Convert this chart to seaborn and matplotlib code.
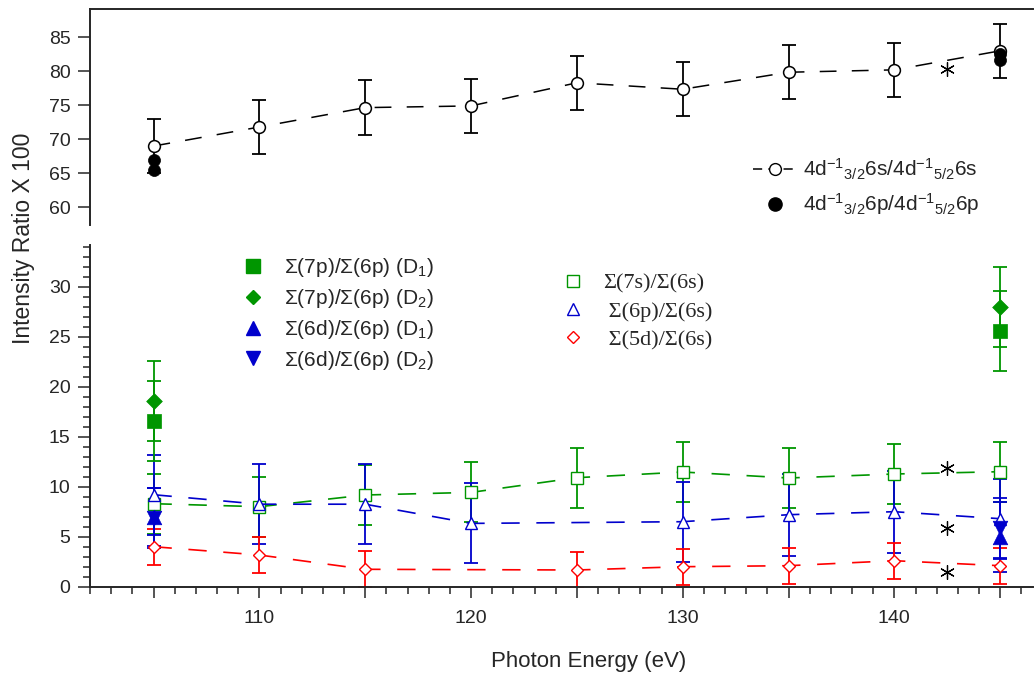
import matplotlib
matplotlib.use('Agg')
import matplotlib.pyplot as plt
import seaborn as sns
from matplotlib.lines import Line2D
from matplotlib.ticker import MultipleLocator, FixedLocator, FuncFormatter

# Photon energies (eV)
energy = [105, 110, 115, 120, 125, 130, 135, 140, 145]

# top panel: 4d-1 3/2 / 4d-1 5/2 ratios (x100)
ratio_6s = [69.0, 71.8, 74.65, 74.9, 78.3, 77.35, 79.85, 80.2, 83.0]
ratio_6s_err = [4.0, 4.0, 4.0, 4.0, 4.0, 4.0, 4.0, 4.0, 4.0]
ratio_6p_x = [105, 105, 145, 145]
ratio_6p = [67.0, 65.5, 82.5, 81.7]
star_top_x = [142.5]
star_top = [80.3]

# bottom panel: open markers (ratios to 6s)
s7_s6 = [8.3, 8.0, 9.17, 9.43, 10.9, 11.47, 10.87, 11.27, 11.5]
s7_s6_err = [3.0, 3.0, 3.0, 3.0, 3.0, 3.0, 3.0, 3.0, 3.0]
p6_s6_x = [105, 110, 115, 120, 130, 135, 140, 145]
p6_s6 = [9.2, 8.25, 8.25, 6.33, 6.5, 7.2, 7.5, 6.8]
p6_s6_err = [4.0, 4.0, 4.0, 4.0, 4.0, 4.1, 4.1, 4.0]
d5_s6_x = [105, 110, 115, 125, 130, 135, 140, 145]
d5_s6 = [4.0, 3.17, 1.74, 1.67, 2.0, 2.1, 2.6, 2.1]
d5_s6_err = [1.8, 1.8, 1.8, 1.8, 1.8, 1.8, 1.8, 1.8]

# bottom panel: filled markers (ratios to 6p)
ends_x = [105, 145]
p7_p6_d1 = [16.6, 25.57]
p7_p6_d1_err = [4.0, 4.0]
p7_p6_d2 = [18.6, 28.0]
p7_p6_d2_err = [4.0, 4.0]
d6_p6_d1 = [7.0, 5.0]
d6_p6_d1_err = [2.9, 3.5]
d6_p6_d2 = [6.9, 5.9]
d6_p6_d2_err = [3.0, 3.0]
star_bot_x = [142.5, 142.5, 142.5]
star_bot = [11.9, 5.84, 1.5]

green = '#009600'
blue = '#0000cc'
red = '#ff0000'

sns.set_theme(style='ticks')
plt.rcParams['font.family'] = ['Liberation Sans', 'DejaVu Sans']
plt.rcParams['mathtext.fontset'] = 'custom'
plt.rcParams['mathtext.rm'] = 'Liberation Sans'
plt.rcParams['mathtext.default'] = 'regular'

W, H = 1034, 675
fig = plt.figure(figsize=(W / 100, H / 100), dpi=100)
ax_top = fig.add_axes([90 / W, 1 - 225 / H, 943 / W, (225 - 9.3) / H])
ax_bot = fig.add_axes([90 / W, 1 - 586.7 / H, 943 / W, (586.7 - 245) / H])

dash = (0, (11, 10))
eb = dict(fmt='none', elinewidth=1.3, capsize=4.7, capthick=1.3, zorder=2)

# ---- top panel
ax_top.errorbar(energy, ratio_6s, yerr=ratio_6s_err, ecolor='black', **eb)
sns.lineplot(x=energy, y=ratio_6s, ax=ax_top, color='black', linestyle=dash, lw=1.1,
             marker='o', markersize=8.5, markerfacecolor='white',
             markeredgecolor='black', markeredgewidth=1.1, zorder=3)
sns.scatterplot(x=ratio_6p_x, y=ratio_6p, ax=ax_top, color='black', marker='o',
                s=75, edgecolor='black', linewidth=0.5, zorder=4)
sns.scatterplot(x=star_top_x, y=star_top, ax=ax_top, color='black', marker=(6, 2, 0),
                s=100, linewidth=0.9, zorder=4)

# ---- bottom panel
ax_bot.errorbar(energy, s7_s6, yerr=s7_s6_err, ecolor=green, **eb)
ax_bot.errorbar(p6_s6_x, p6_s6, yerr=p6_s6_err, ecolor=blue, **eb)
ax_bot.errorbar(d5_s6_x, d5_s6, yerr=d5_s6_err, ecolor=red, **eb)
ax_bot.errorbar(ends_x, p7_p6_d1, yerr=p7_p6_d1_err, ecolor=green, **eb)
ax_bot.errorbar(ends_x, p7_p6_d2, yerr=p7_p6_d2_err, ecolor=green, **eb)
ax_bot.errorbar(ends_x, d6_p6_d1, yerr=d6_p6_d1_err, ecolor=blue, **eb)
ax_bot.errorbar(ends_x, d6_p6_d2, yerr=d6_p6_d2_err, ecolor=blue, **eb)

sns.lineplot(x=energy, y=s7_s6, ax=ax_bot, color=green, linestyle=dash, lw=1.2,
             marker='s', markersize=8.5, markerfacecolor='white',
             markeredgecolor=green, markeredgewidth=1.0, zorder=3)
sns.lineplot(x=p6_s6_x, y=p6_s6, ax=ax_bot, color=blue, linestyle=dash, lw=1.2,
             marker='^', markersize=9, markerfacecolor='white',
             markeredgecolor=blue, markeredgewidth=1.0, zorder=3)
sns.lineplot(x=d5_s6_x, y=d5_s6, ax=ax_bot, color=red, linestyle=dash, lw=1.2,
             marker='D', markersize=6, markerfacecolor='white',
             markeredgecolor=red, markeredgewidth=1.0, zorder=3)

sns.scatterplot(x=ends_x, y=p7_p6_d1, ax=ax_bot, color=green, marker='s', s=90,
                edgecolor=green, linewidth=0.5, zorder=4)
sns.scatterplot(x=ends_x, y=p7_p6_d2, ax=ax_bot, color=green, marker='D', s=64,
                edgecolor=green, linewidth=0.5, zorder=4)
sns.scatterplot(x=ends_x, y=d6_p6_d1, ax=ax_bot, color=blue, marker='^', s=110,
                edgecolor=blue, linewidth=0.5, zorder=4)
sns.scatterplot(x=ends_x, y=d6_p6_d2, ax=ax_bot, color=blue, marker='v', s=110,
                edgecolor=blue, linewidth=0.5, zorder=4)
sns.scatterplot(x=star_bot_x, y=star_bot, ax=ax_bot, color='black', marker=(6, 2, 0),
                s=100, linewidth=0.9, zorder=4)

# ---- axes styling
for ax in (ax_top, ax_bot):
    ax.set_xlim(102.0, 146.55)
    ax.set_xlabel('')
    ax.set_ylabel('')
    for sp in ax.spines.values():
        sp.set_linewidth(1.4)
    ax.spines['right'].set_visible(False)

ax_top.set_ylim(57.4, 89.1)
ax_top.spines['bottom'].set_visible(False)
ax_top.yaxis.set_major_locator(FixedLocator([60, 65, 70, 75, 80, 85]))
ax_top.tick_params(axis='y', which='major', length=9, width=1.1, labelsize=14, pad=5)
ax_top.tick_params(axis='x', which='both', bottom=False, labelbottom=False)

ax_bot.set_ylim(0, 34.17)
ax_bot.spines['top'].set_visible(False)
ax_bot.yaxis.set_major_locator(FixedLocator([0, 5, 10, 15, 20, 25, 30]))
ax_bot.yaxis.set_minor_locator(MultipleLocator(1))
ax_bot.xaxis.set_major_locator(MultipleLocator(5))
ax_bot.xaxis.set_minor_locator(MultipleLocator(1))
ax_bot.xaxis.set_major_formatter(FuncFormatter(lambda v, p: f'{v:.0f}' if round(v) % 10 == 0 else ''))
ax_bot.tick_params(axis='y', which='major', length=9, width=1.1, labelsize=14, pad=5)
ax_bot.tick_params(axis='y', which='minor', length=5.3, width=1.1, left=True)
ax_bot.tick_params(axis='x', which='major', length=7.7, width=1.1, labelsize=14, pad=9)
ax_bot.tick_params(axis='x', which='minor', length=4.8, width=1.1, bottom=True)

fig.text(23.5 / W, 1 - 238.5 / H, 'Intensity Ratio X 100', rotation=90,
         ha='center', va='center', fontsize=16.5)
fig.text(589 / W, 1 - 661 / H, 'Photon Energy (eV)', ha='center', va='center', fontsize=16)

# ---- legends
top_handles = [
    Line2D([], [], color='black', linestyle=(0, (6, 4)), lw=1.1, marker='o', markersize=8.5,
           markerfacecolor='white', markeredgecolor='black'),
    Line2D([], [], color='black', linestyle='none', marker='o', markersize=9.5),
]
top_labels = [r'4d$^{-1}$$_{3/2}$6s/4d$^{-1}$$_{5/2}$6s',
              r'4d$^{-1}$$_{3/2}$6p/4d$^{-1}$$_{5/2}$6p']
ax_top.legend(top_handles, top_labels, loc='upper left', bbox_to_anchor=(753 / W, 1 - 157 / H),
              bbox_transform=fig.transFigure, frameon=False, fontsize=15, borderpad=0,
              borderaxespad=0, handlelength=2.15, handletextpad=0.25, labelspacing=0.45)

fill_handles = [
    Line2D([], [], color=green, linestyle='none', marker='s', markersize=9.5),
    Line2D([], [], color=green, linestyle='none', marker='D', markersize=7.5),
    Line2D([], [], color=blue, linestyle='none', marker='^', markersize=10),
    Line2D([], [], color=blue, linestyle='none', marker='v', markersize=10),
]
fill_labels = [r'$\Sigma$(7p)/$\Sigma$(6p) (D$_1$)', r'$\Sigma$(7p)/$\Sigma$(6p) (D$_2$)',
               r'$\Sigma$(6d)/$\Sigma$(6p) (D$_1$)', r'$\Sigma$(6d)/$\Sigma$(6p) (D$_2$)']
leg1 = ax_bot.legend(fill_handles, fill_labels, loc='upper left',
                     bbox_to_anchor=(242.6 / W, 1 - 256 / H), bbox_transform=fig.transFigure,
                     frameon=False, fontsize=15, borderpad=0, borderaxespad=0,
                     handlelength=1.0, handletextpad=1.0, labelspacing=0.38)
ax_bot.add_artist(leg1)

open_handles = [
    Line2D([], [], color=green, linestyle='none', marker='s', markersize=9,
           markerfacecolor='white', markeredgecolor=green, markeredgewidth=1.0),
    Line2D([], [], color=blue, linestyle='none', marker='^', markersize=9,
           markerfacecolor='white', markeredgecolor=blue, markeredgewidth=1.0),
    Line2D([], [], color=red, linestyle='none', marker='D', markersize=6.5,
           markerfacecolor='white', markeredgecolor=red, markeredgewidth=1.0),
]
open_labels = ['Σ(7s)/Σ(6s)', ' Σ(6p)/Σ(6s)', ' Σ(5d)/Σ(6s)']
ax_bot.legend(open_handles, open_labels, loc='upper left',
              bbox_to_anchor=(562 / W, 1 - 273 / H), bbox_transform=fig.transFigure,
              frameon=False, prop={'family': 'Liberation Serif', 'size': 16}, borderpad=0,
              borderaxespad=0, handlelength=1.0, handletextpad=0.85, labelspacing=0.35)

fig.savefig('out.png', dpi=100)
